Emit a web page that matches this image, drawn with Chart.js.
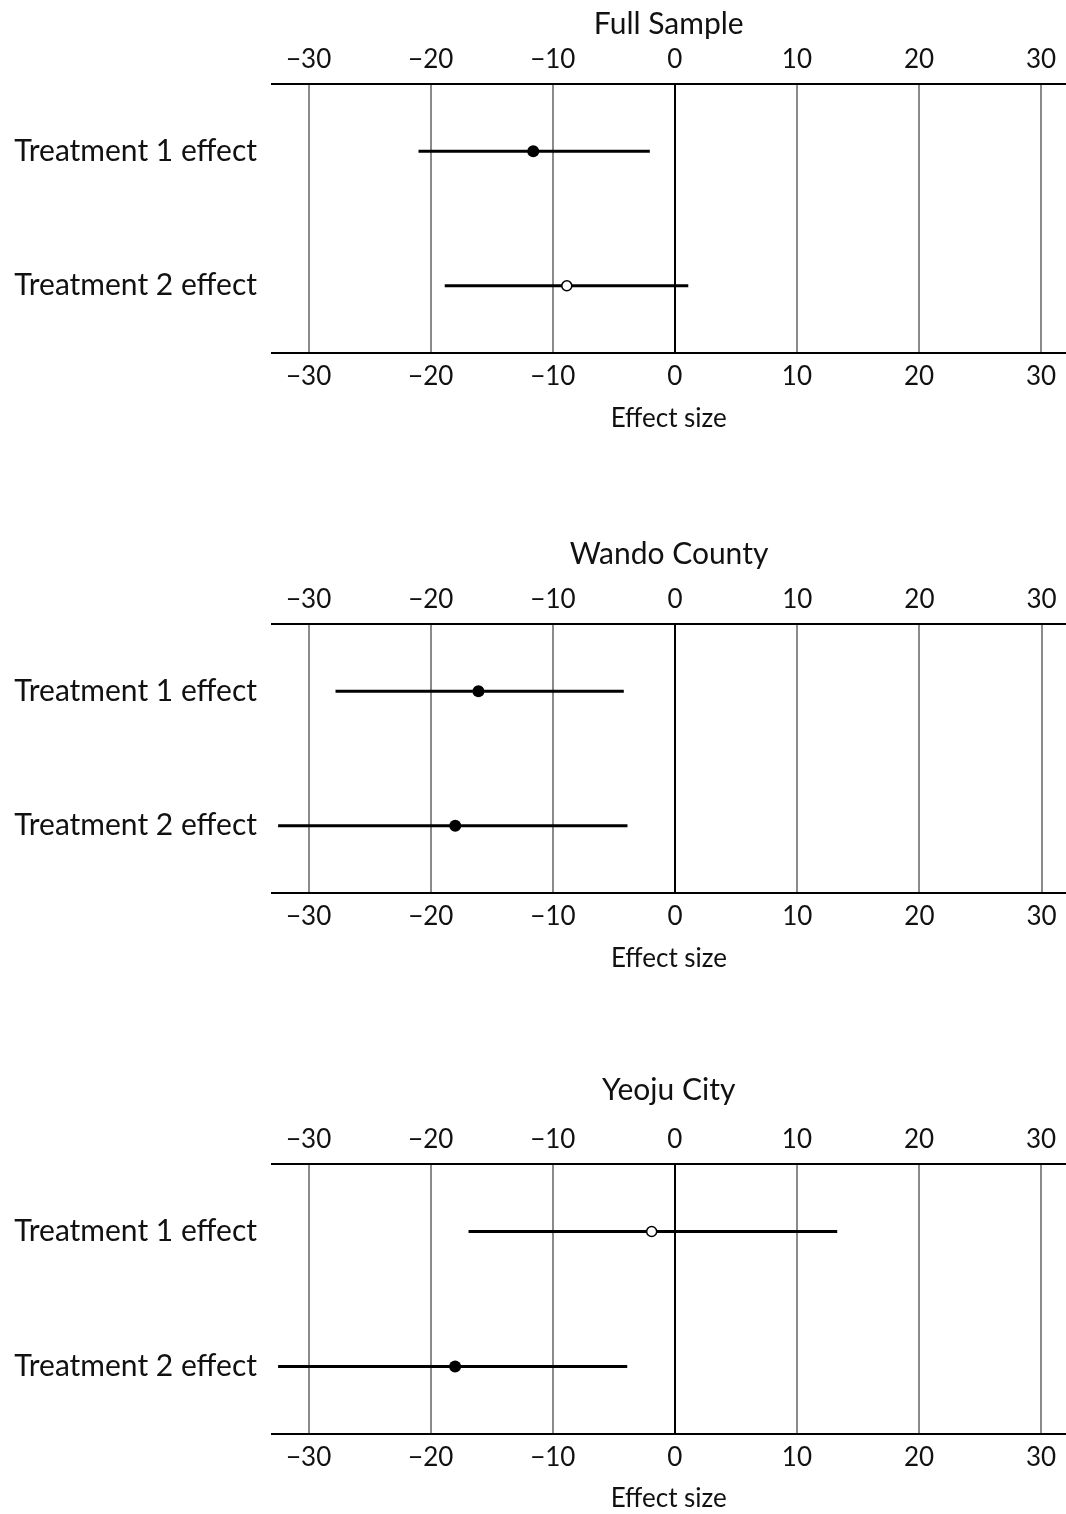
<!DOCTYPE html>
<html>
<head>
<meta charset="utf-8">
<script src="https://cdn.jsdelivr.net/npm/chart.js@4"></script>
<style>
  html, body { margin: 0; padding: 0; background: #fff; overflow: hidden; }
  .panel { position: absolute; left: 0; width: 1066px; height: 470px; overflow: hidden; }
</style>
</head>
<body>
<div class="panel" style="top:0px"><canvas id="p0" width="1072" height="470"></canvas></div>
<div class="panel" style="top:530px"><canvas id="p1" width="1072" height="470"></canvas></div>
<div class="panel" style="top:1066px"><canvas id="p2" width="1072" height="470"></canvas></div>
<script>
const panelTitles = ["Full Sample", "Wando County", "Yeoju City"];
const rowLabels = ["Treatment 1 effect", "Treatment 2 effect"];
const tickValues = [-30, -20, -10, 0, 10, 20, 30];

// point estimates and 95% CI ends, one row per panel
const estimates = [[-11.6, -8.85], [-16.1, -18.0], [-1.9, -18.0]];
const lowerCI = [[-21.0, -18.85], [-27.8, -32.5], [-16.9, -32.5]];
const upperCI = [[-2.05, 1.1], [-4.2, -3.9], [13.3, -3.9]];

// page layout of each panel (canvas top, axis top, axis bottom, x title centre)
const panelTop = [0, 530, 1066];
const axisTop = [84, 624, 1164];
const axisBottom = [353, 893, 1434];
const xTitleY = [419, 959, 1499];
const H = 470;

const FONT = "Lato, 'Open Sans', sans-serif";

function fmtTick(v) {
  return v < 0 ? "\u2212" + Math.abs(v) : String(v);
}

function keepTicks(scale) {
  scale.ticks = tickValues.map(v => ({ value: v }));
}

function makePanel(i) {
  const points = rowLabels.map((lab, r) => ({ x: estimates[i][r], y: lab }));
  const sig = rowLabels.map((lab, r) => upperCI[i][r] < 0 || lowerCI[i][r] > 0);

  const datasets = [{
    data: points,
    showLine: false,
    pointRadius: sig.map(s => s ? 6 : 5),
    pointBackgroundColor: sig.map(s => s ? "#000" : "#fff"),
    pointBorderColor: "#000",
    pointBorderWidth: sig.map(s => s ? 0 : 1.5),
    clip: false
  }];
  rowLabels.forEach((lab, r) => {
    datasets.push({
      data: [{ x: lowerCI[i][r], y: lab }, { x: upperCI[i][r], y: lab }],
      borderColor: "#000",
      borderWidth: 3,
      pointRadius: 0,
      clip: false
    });
  });

  const tickFont = { family: FONT, size: 26 };
  const top = panelTop[i];
  const xHeight = H - (axisBottom[i] - top);
  const xTitlePad = (top + H) - xTitleY[i] - 26 * 1.2 / 2;

  new Chart(document.getElementById("p" + i), {
    type: "line",
    data: { datasets },
    options: {
      responsive: false,
      animation: false,
      devicePixelRatio: 1,
      layout: { padding: 0 },
      plugins: {
        legend: { display: false },
        tooltip: { enabled: false },
        title: { display: false }
      },
      scales: {
        x: {
          type: "linear",
          position: "bottom",
          min: -33,
          max: 32,
          afterBuildTicks: keepTicks,
          afterFit: s => { s.height = xHeight; },
          grid: {
            drawTicks: false,
            lineWidth: 2,
            color: c => (c.tick && c.tick.value === 0) ? "#000" : "#8a8a8a"
          },
          border: { display: true, color: "#000", width: 2 },
          ticks: { font: tickFont, color: "#111", padding: 8, callback: v => fmtTick(v) },
          title: {
            display: true,
            text: "Effect size",
            color: "#111",
            font: { family: FONT, size: 26 },
            padding: { top: 0, bottom: xTitlePad }
          }
        },
        x2: {
          type: "linear",
          position: "top",
          min: -33,
          max: 32,
          afterBuildTicks: keepTicks,
          afterFit: s => { s.height = axisTop[i] - top; },
          grid: { display: false, drawTicks: false },
          border: { display: true, color: "#000", width: 2 },
          ticks: { font: tickFont, color: "#111", padding: 9, callback: v => fmtTick(v) },
          title: {
            display: true,
            text: panelTitles[i],
            color: "#111",
            font: { family: FONT, size: 30 },
            padding: { top: 6, bottom: 0 }
          }
        },
        y: {
          type: "category",
          labels: rowLabels,
          offset: true,
          afterFit: s => { s.width = 272; },
          grid: { display: false, drawTicks: false },
          border: { display: false },
          ticks: {
            font: { family: FONT, size: 30 },
            color: "#111",
            padding: 15
          }
        }
      }
    }
  });
}

panelTitles.forEach((t, i) => makePanel(i));
</script>
</body>
</html>
